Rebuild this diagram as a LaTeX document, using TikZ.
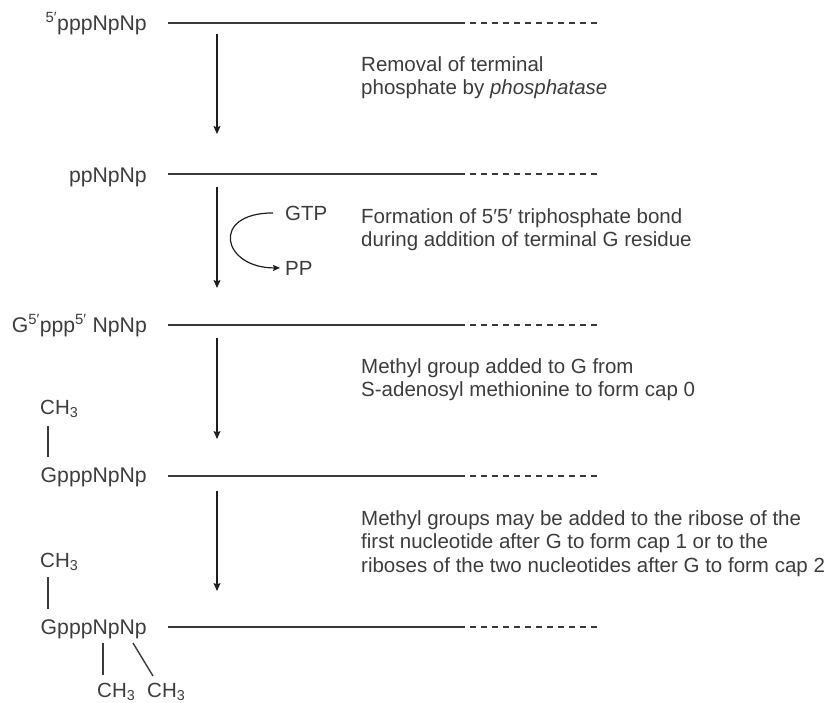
\documentclass[tikz,border=0pt]{standalone}
\usepackage{fontspec}
\setmainfont{Liberation Sans}
\usetikzlibrary{arrows.meta}
\definecolor{textgray}{HTML}{3C3C3C}
\definecolor{linegray}{HTML}{3A3A3A}
\definecolor{arrowblack}{HTML}{1E1E1E}
\begin{document}
\begin{tikzpicture}[x=1pt,y=-1pt,
  txt/.style={inner sep=0pt, text=textgray, font=\fontsize{20.5}{23.5}\selectfont},
  lbl/.style={txt, anchor=base east, font=\fontsize{21.2}{24}\selectfont},
  desc/.style={txt, anchor=base west, align=left},
  strand/.style={draw=linegray, line width=1.6pt},
  tailline/.style={draw=linegray, line width=1.6pt, dash pattern=on 6pt off 5pt},
  steparrow/.style={draw=arrowblack, line width=1.3pt, -{Stealth[length=8pt,width=7pt,inset=1.5pt]}},
  curvearrow/.style={draw=arrowblack, line width=1.2pt, -{Stealth[length=7pt,width=6pt,inset=1.2pt]}},
  bond/.style={draw=linegray, line width=1.4pt},
]
\useasboundingbox (0,0) rectangle (837,702);

% ---- strands -------------------------------------------------
\node[lbl] (r1) at (147,30)  {\textsuperscript{5′}pppNpNp};
\node[lbl] (r2) at (147,182) {ppNpNp};
\node[lbl] (r3) at (147,332) {G\textsuperscript{5′}ppp\textsuperscript{5′} NpNp};
\node[lbl] (r4) at (147,482) {GpppNpNp};
\node[lbl] (r5) at (147,634) {GpppNpNp};

\foreach \i/\y in {1/23,2/174,3/325,4/476,5/627}{
  \coordinate (s\i) at (168,\y);
  \coordinate (m\i) at (465,\y);
  \coordinate (t\i) at (470,\y);
  \coordinate (e\i) at (600,\y);
  \draw[strand] (s\i) -- (m\i);
  \draw[tailline] (t\i) -- (e\i);
}

% ---- step arrows ---------------------------------------------
\coordinate (a1s) at (217,34);  \coordinate (a1e) at (217,134);
\coordinate (a2s) at (217,187); \coordinate (a2e) at (217,288);
\coordinate (a3s) at (217,338); \coordinate (a3e) at (217,439);
\coordinate (a4s) at (217,491); \coordinate (a4e) at (217,591);
\draw[steparrow] (a1s) -- (a1e);
\draw[steparrow] (a2s) -- (a2e);
\draw[steparrow] (a3s) -- (a3e);
\draw[steparrow] (a4s) -- (a4e);

% ---- GTP -> PP -----------------------------------------------
\node[txt, anchor=base west] (gtp) at (285,220) {GTP};
\node[txt, anchor=base west] (pp)  at (285,275) {PP};
\draw[curvearrow] ([xshift=-12pt]gtp.west) .. controls +(-63,0) and +(-58,0) .. ([xshift=-5pt]pp.west);

% ---- descriptions (anchor = baseline of last line) -----------
\node[desc] (d1) at (361,94.5)  {Removal of terminal\\phosphate by \textit{phosphatase}};
\node[desc] (d2) at (361,246.5) {Formation of 5′5′ triphosphate bond\\during addition of terminal G residue};
\node[desc] (d3) at (361,396.5) {Methyl group added to G from\\S-adenosyl methionine to form cap 0};
\node[desc] (d4) at (361,572)   {Methyl groups may be added to the ribose of the\\first nucleotide after G to form cap 1 or to the\\riboses of the two nucleotides after G to form cap 2};

% ---- methyl groups -------------------------------------------
\node[txt, anchor=base west] (c4)  at (40,414)  {CH\textsubscript{3}};
\node[txt, anchor=base west] (c5)  at (40,567)  {CH\textsubscript{3}};
\node[txt, anchor=base west] (c5a) at (97,697)  {CH\textsubscript{3}};
\node[txt, anchor=base west] (c5b) at (147,697) {CH\textsubscript{3}};
\coordinate (b4t) at (48,426); \coordinate (b4b) at (48,457);
\coordinate (b5t) at (48,577); \coordinate (b5b) at (48,609);
\coordinate (bat) at (103,643); \coordinate (bab) at (103,675);
\coordinate (bbt) at (133,643); \coordinate (bbb) at (153,676);
\draw[bond] (b4t) -- (b4b);
\draw[bond] (b5t) -- (b5b);
\draw[bond] (bat) -- (bab);
\draw[bond] (bbt) -- (bbb);
\end{tikzpicture}
\end{document}
